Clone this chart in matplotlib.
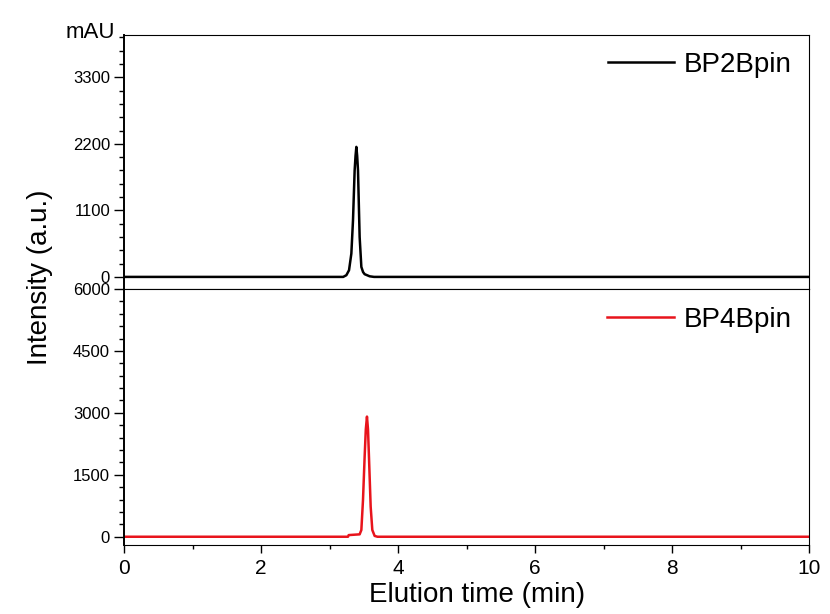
import matplotlib
matplotlib.use("Agg")
import matplotlib.pyplot as plt
from matplotlib.ticker import MultipleLocator, FixedLocator

plt.rcParams['font.family'] = ['Liberation Sans', 'DejaVu Sans']

# elution time (min) and intensity (mAU)
t_bp2 = [0.0, 3.20, 3.246, 3.285, 3.319, 3.343, 3.367, 3.380, 3.392, 3.404,
         3.416, 3.440, 3.465, 3.490, 3.513, 3.586, 3.65, 10.0]
i_bp2 = [0, 0, 28, 110, 386, 935, 1760, 2000, 2150, 2000,
         1760, 660, 165, 80, 45, 10, 0, 0]

t_bp4 = [0.0, 3.27, 3.28, 3.440, 3.465, 3.489, 3.513, 3.530, 3.547, 3.562,
         3.576, 3.601, 3.625, 3.659, 3.70, 10.0]
i_bp4 = [0, 0, 40, 58, 163, 890, 1940, 2600, 2910, 2600,
         1940, 728, 163, 20, 0, 0]

labels = ['BP2Bpin', 'BP4Bpin']
colors = ['black', '#e8141c']

fig = plt.figure(figsize=(8.3, 6.14), dpi=100)
left, right = 124 / 830, 809 / 830
ax1 = fig.add_axes([left, 1 - 289 / 614, right - left, (289 - 35) / 614])
ax2 = fig.add_axes([left, 1 - 545 / 614, right - left, (545 - 289) / 614])

ax1.plot(t_bp2, i_bp2, color=colors[0], lw=1.8, label=labels[0])
ax2.plot(t_bp4, i_bp4, color=colors[1], lw=1.8, label=labels[1])

for ax in (ax1, ax2):
    ax.set_xlim(0, 10)
    for s in ('top', 'right', 'bottom'):
        ax.spines[s].set_linewidth(0.8)
    ax.spines['left'].set_linewidth(1.4)
    ax.tick_params(axis='y', which='major', direction='out', length=7,
                   width=1.0, labelsize=12, pad=3)
    ax.tick_params(axis='y', which='minor', direction='out', length=3.5,
                   width=1.0)
    ax.tick_params(axis='x', which='major', direction='out', length=6,
                   width=1.0, labelsize=15, pad=4)
    ax.tick_params(axis='x', which='minor', direction='out', length=3,
                   width=1.0)

ax1.set_ylim(-200, 4000)
ax1.yaxis.set_major_locator(FixedLocator([0, 1100, 2200, 3300]))
ax1.yaxis.set_minor_locator(MultipleLocator(220))
ax1.tick_params(axis='x', which='both', bottom=False, labelbottom=False)

ax2.set_ylim(-200, 6000)
ax2.yaxis.set_major_locator(FixedLocator([0, 1500, 3000, 4500, 6000]))
ax2.yaxis.set_minor_locator(MultipleLocator(300))
ax2.xaxis.set_major_locator(MultipleLocator(2))
ax2.xaxis.set_minor_locator(MultipleLocator(1))

ax1.legend(loc='upper right', bbox_to_anchor=(0.975, 0.935), frameon=False,
           fontsize=20, handlelength=2.4, handletextpad=0.35,
           borderpad=0, borderaxespad=0)
ax2.legend(loc='upper right', bbox_to_anchor=(0.975, 0.93), frameon=False,
           fontsize=20, handlelength=2.4, handletextpad=0.35,
           borderpad=0, borderaxespad=0)

fig.text(115 / 830, 1 - 33 / 614, 'mAU', ha='right', va='center', fontsize=16)
fig.text(40 / 830, 1 - 277 / 614, 'Intensity (a.u.)', rotation=90,
         ha='center', va='center', fontsize=20)
fig.text(477 / 830, 1 - 595 / 614, 'Elution time (min)', ha='center',
         va='center', fontsize=20)

fig.savefig('out.png', dpi=100)
